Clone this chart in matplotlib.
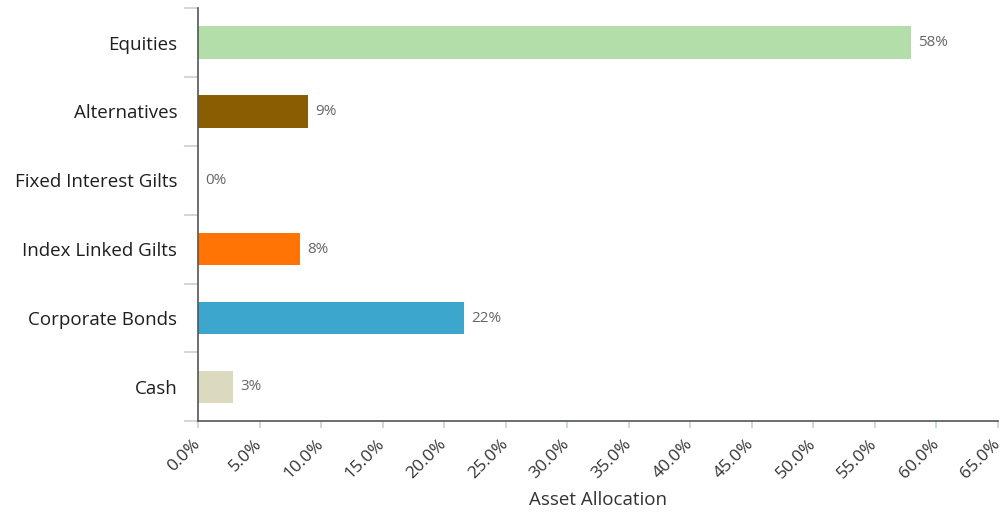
import matplotlib.pyplot as plt
from matplotlib.ticker import PercentFormatter

categories = ['Equities', 'Alternatives', 'Fixed Interest Gilts',
              'Index Linked Gilts', 'Corporate Bonds', 'Cash']
values = [57.9, 8.9, 0.0, 8.3, 21.6, 2.85]
colors = ['#b3dea9', '#8b5d02', '#ffffff', '#ff7404', '#3da6cc', '#dcd9c1']
x_ticks = [0, 5, 10, 15, 20, 25, 30, 35, 40, 45, 50, 55, 60, 65]

plt.rcParams['font.family'] = ['Open Sans', 'DejaVu Sans']

fig = plt.figure(figsize=(10.05, 5.15), dpi=100)
ax = fig.add_axes([0.197, 0.182, 0.796, 0.802])

positions = list(range(len(categories)))[::-1]
ax.barh(positions, values, height=0.47, color=colors)

for pos, val in zip(positions, values):
    ax.text(val + 0.6, pos, str(round(val)) + '%', va='center', ha='left',
            fontsize=11, color='#666666')

ax.set_ylim(-0.5, len(categories) - 0.5)
ax.set_xlim(0, 65)
ax.set_xticks(x_ticks)
ax.xaxis.set_major_formatter(PercentFormatter(decimals=1))
ax.set_yticks(positions)
ax.set_yticklabels(categories, fontsize=13.5, color='#1e1e1e')
ax.set_yticks([p + 0.5 for p in range(-1, len(categories))], minor=True)
ax.tick_params(axis='y', which='major', length=0, pad=15)
ax.tick_params(axis='y', which='minor', length=10, color='#c8d0dc', width=1.2)
ax.tick_params(axis='x', length=5, color='#c8d0dc', width=1.2, labelsize=12.5,
               labelcolor='#333333', pad=10)
for lbl in ax.get_xticklabels():
    lbl.set_rotation(45)
    lbl.set_ha('right')
    lbl.set_va('center')
    lbl.set_rotation_mode('anchor')

ax.spines['top'].set_visible(False)
ax.spines['right'].set_visible(False)
ax.spines['left'].set_color('#555555')
ax.spines['bottom'].set_color('#555555')
ax.spines['left'].set_linewidth(1.2)
ax.spines['bottom'].set_linewidth(1.2)

ax.set_xlabel('Asset Allocation', fontsize=13.5, color='#333333', labelpad=6)

plt.savefig('out.png', dpi=100)
plt.close()
